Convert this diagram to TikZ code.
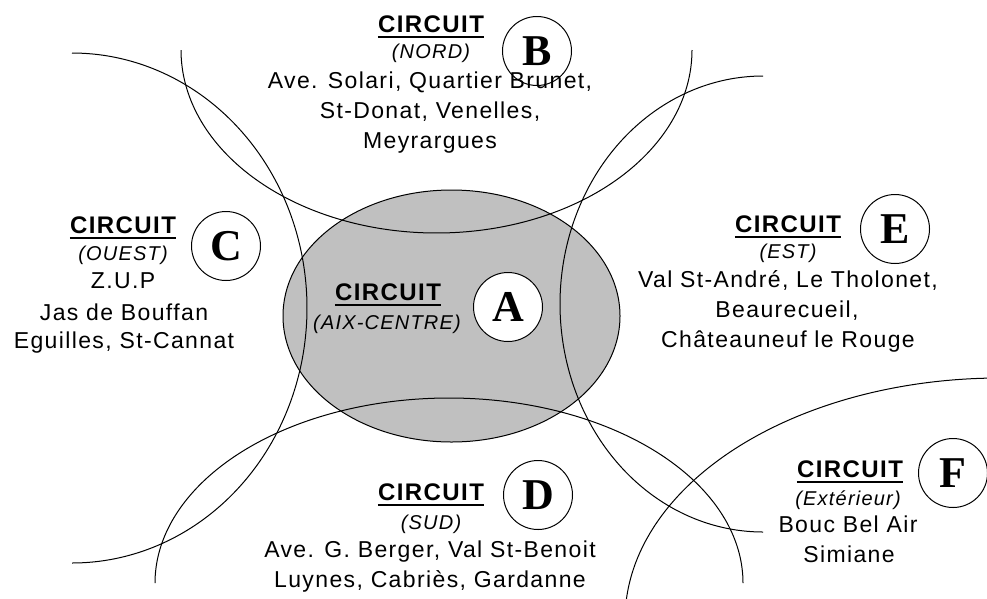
\documentclass[tikz,border=0pt]{standalone}
\usepackage{fontspec}
\setmainfont{Liberation Sans}
\newfontfamily\lsans[LetterSpace=6]{Liberation Sans}
\newfontfamily\lserif{Liberation Serif}
\definecolor{zonegrey}{HTML}{C0C0C0}
\tikzset{
  tb/.style={font=\lsans\bfseries\fontsize{24}{24}\selectfont, inner sep=0pt, anchor=base},
  ti/.style={font=\lsans\itshape\fontsize{20}{20}\selectfont, inner sep=0pt, anchor=base},
  tr/.style={font=\lsans\fontsize{23}{23}\selectfont, inner sep=0pt, anchor=base},
  letterbox/.style={circle, draw, line width=1pt, minimum size=69pt, inner sep=0pt,
    font=\lserif\bfseries\fontsize{44}{44}\selectfont},
  curve/.style={line width=1pt},
  uline/.style={line width=2.5pt},
}
\begin{document}
\begin{tikzpicture}[x=1pt,y=-1pt]
\useasboundingbox (0,0) rectangle (987,598);
\fill[white] (0,0) rectangle (987,598);
\clip (0,0) rectangle (987,598);
% central zone A
\draw[curve, fill=zonegrey] (451.5,316) ellipse [x radius=168.5, y radius=126];
% boundary curves
\draw[curve] plot[domain=0:180, samples=160, smooth, variable=\t] ({436.5+255.5*cos(\t)},{50+183*sin(\t)});
\draw[curve] plot[domain=-90:90, samples=160, smooth, variable=\t] ({72+235*cos(\t)},{308+255*sin(\t)});
\draw[curve] plot[domain=90:270, samples=160, smooth, variable=\t] ({763+203*cos(\t)},{304+228*sin(\t)});
\draw[curve] plot[domain=180:360, samples=160, smooth, variable=\t] ({449+294*cos(\t)},{583+185*sin(\t)});
\draw[curve] plot[domain=170:275, samples=160, smooth, variable=\t] ({1000+375*cos(\t)},{620+242*sin(\t)});
% B (nord)
\node[tb] (bC) at (431,32) {CIRCUIT};
\draw[uline] ([yshift=-5pt]bC.base west) -- ([yshift=-5pt]bC.base east);
\node[ti] (bN) at (431,58) {(NORD)};
\node[tr] (b1) at (430,88) {Ave. Solari, Quartier Brunet,};
\node[tr] (b2) at (430,118) {St-Donat, Venelles,};
\node[tr] (b3) at (430,148) {Meyrargues};
% C (ouest)
\node[tb] (cC) at (123,233) {CIRCUIT};
\draw[uline] ([yshift=-5pt]cC.base west) -- ([yshift=-5pt]cC.base east);
\node[ti] (cN) at (123,260) {(OUEST)};
\node[tr] (c1) at (123,288) {Z.U.P};
\node[tr] (c2) at (124,320) {Jas de Bouffan};
\node[tr] (c3) at (124,348) {Eguilles, St-Cannat};
% A (centre)
\node[tb] (aC) at (388,300) {CIRCUIT};
\draw[uline] ([yshift=-5pt]aC.base west) -- ([yshift=-5pt]aC.base east);
\node[ti] (aN) at (387,329) {(AIX-CENTRE)};
% E (est)
\node[tb] (eC) at (788,232) {CIRCUIT};
\draw[uline] ([yshift=-5pt]eC.base west) -- ([yshift=-5pt]eC.base east);
\node[ti] (eN) at (788,258) {(EST)};
\node[tr] (e1) at (788,287) {Val St-André, Le Tholonet,};
\node[tr] (e2) at (787,317) {Beaurecueil,};
\node[tr] (e3) at (788,347) {Châteauneuf le Rouge};
% D (sud)
\node[tb] (dC) at (431,500) {CIRCUIT};
\draw[uline] ([yshift=-5pt]dC.base west) -- ([yshift=-5pt]dC.base east);
\node[ti] (dN) at (431,529) {(SUD)};
\node[tr] (d1) at (430,557) {Ave. G. Berger, Val St-Benoit};
\node[tr] (d2) at (430,587) {Luynes, Cabriès, Gardanne};
% F (exterieur)
\node[tb] (fC) at (850,477) {CIRCUIT};
\draw[uline] ([yshift=-5pt]fC.base west) -- ([yshift=-5pt]fC.base east);
\node[ti] (fN) at (848,505) {(Extérieur)};
\node[tr] (f1) at (848,532) {Bouc Bel Air};
\node[tr] (f2) at (849,562) {Simiane};
% letter circles
\node[letterbox, fill=white] (lA) at (508,307) {A};
\node[letterbox] (lB) at (537,51) {B};
\node[letterbox] (lC) at (226,246) {C};
\node[letterbox] (lD) at (538,495) {D};
\node[letterbox] (lE) at (895,229) {E};
\node[letterbox] (lF) at (953,473) {F};
\end{tikzpicture}
\end{document}
